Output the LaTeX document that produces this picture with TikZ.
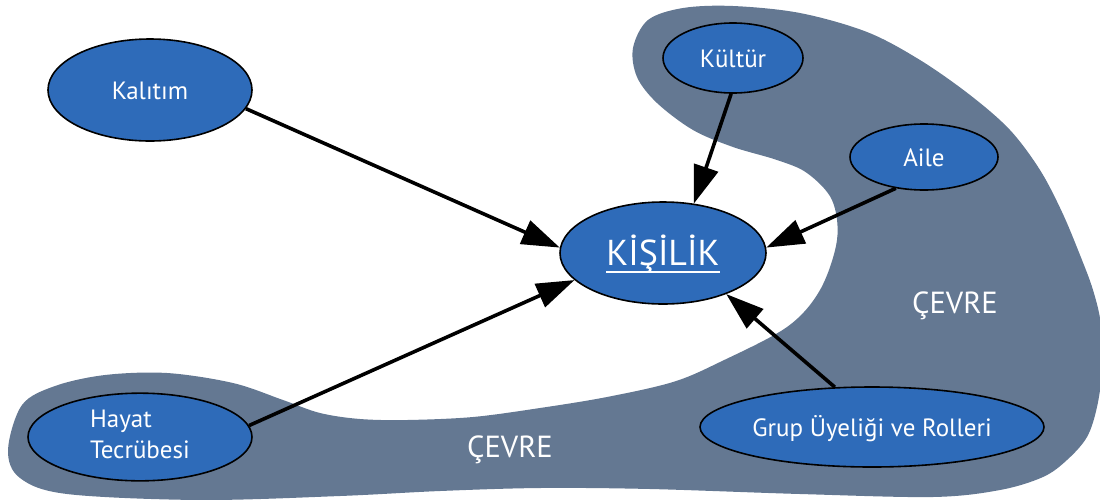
\documentclass[tikz,border=0pt]{standalone}
\usepackage{fontspec}
\setmainfont{PT Sans}
\usetikzlibrary{arrows.meta,shapes.geometric}
\definecolor{envgray}{HTML}{647892}
\definecolor{nodeblue}{HTML}{2E6BB9}
\newcommand\myul[1]{\setbox0=\hbox{#1}\rlap{\rule[-7pt]{\wd0}{1.8pt}}\box0}
\begin{document}
\begin{tikzpicture}[x=1pt,y=-1pt,
  bubbase/.style={ellipse, draw=black, line width=1.6pt, fill=nodeblue, text=white,
    inner sep=0pt, font=\fontsize{25}{31}\selectfont},
  bubble/.style={bubbase, text height=18pt, text depth=0pt},
  infl/.style={-{Triangle[length=38pt,width=25pt]}, line width=3.6pt, draw=black},
  envlabel/.style={text=white, font=\fontsize{30.5}{36}\selectfont, inner sep=0pt, anchor=base}]
\useasboundingbox (0,0) rectangle (1100,499);
\begin{scope}
\clip (0,0) rectangle (1100,499);
\fill[envgray] plot[smooth cycle, tension=0.55] coordinates {
 (8,450) (22,405) (55,386) (105,375) (167,373) (233,383) (283,400) (320,413)
 (360,419) (407,420) (473,417) (540,408) (607,397) (673,382) (720,362) (787,327)
 (820,290) (837,240) (832,200) (807,173) (777,160) (733,147) (693,130) (657,103)
 (637,77) (633,48) (648,20) (683,8) (733,6) (800,13) (867,32) (920,60) (970,95)
 (1010,130) (1040,170) (1062,212) (1080,255) (1093,290) (1101,325) (1102,370)
 (1097,407) (1087,437) (1067,460) (1043,477) (1000,490) (933,497) (800,494)
 (650,489) (540,488) (440,491) (340,496) (200,500) (67,494) (20,478)};
\end{scope}

\node[envlabel] (cevreR) at (955,313) {ÇEVRE};
\node[envlabel] (cevreB) at (510,457) {ÇEVRE};

\node[bubble, minimum width=204pt, minimum height=102pt] (kal) at (150,90) {Kalıtım};
\node[bubble, minimum width=140pt, minimum height=70pt] (kul) at (733,58) {Kültür};
\node[bubble, minimum width=148pt, minimum height=66pt] (aile) at (924,157) {Aile};
\node[bubble, minimum width=344pt, minimum height=80pt] (grup) at (872,427) {Grup Üyeliği ve Rolleri};
\node[bubbase, minimum width=224pt, minimum height=76pt] (hay) at (140,437)
  {\begin{tabular}{@{}l@{}}Hayat\\Tecrübesi\end{tabular}};
\node[bubbase, minimum width=206pt, minimum height=102pt, font=\fontsize{36}{44}\selectfont,
  text height=25pt, text depth=0pt] (kis) at (663,253) {\myul{KİŞİLİK}};

\draw[infl] (kal.-11) -- (kis.177);
\draw[infl] (hay.6) -- (kis.197);
\draw[infl] (kul.-93) -- (kis.58);
\draw[infl] (aile.228) -- (kis.3);
\draw[infl] (grup.133) -- (kis.-33);
\end{tikzpicture}
\end{document}
